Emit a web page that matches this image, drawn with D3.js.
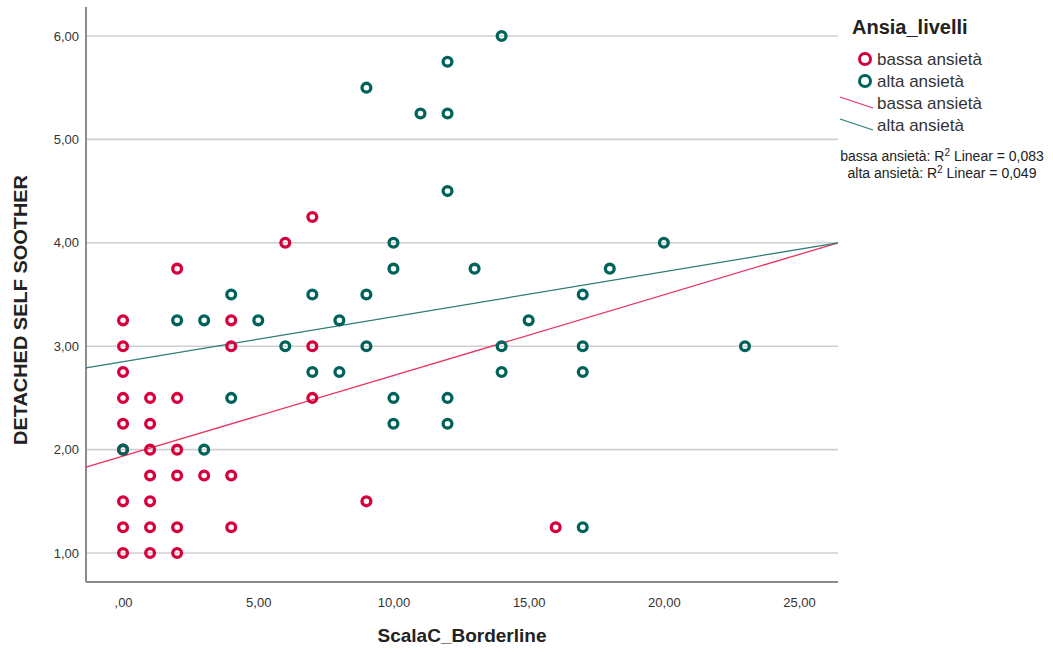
<!DOCTYPE html>
<html>
<head>
<meta charset="utf-8">
<script src="https://cdn.jsdelivr.net/npm/d3@7"></script>
<style>
  body { margin: 0; background: #fff; }
  svg { display: block; }
  text { font-family: "Liberation Sans Narrow", "Arial Narrow", "Liberation Sans", Arial, sans-serif; }
</style>
</head>
<body>
<svg id="chart" width="1053" height="653"></svg>
<script>
// group names
const groups = ['bassa ansietà', 'alta ansietà'];
const colors = ['#d6003c', '#00635b'];
const lineColors = ['#e8345f', '#2a7d76'];

// bassa ansietà points [ScalaC_Borderline, DETACHED SELF SOOTHER]
const bassa = [
  [0, 3.25], [0, 3.0], [0, 2.75], [0, 2.5], [0, 2.25], [0, 2.0], [0, 1.5], [0, 1.25], [0, 1.0],
  [1, 2.5], [1, 2.25], [1, 2.0], [1, 1.75], [1, 1.5], [1, 1.25], [1, 1.0],
  [2, 3.75], [2, 2.5], [2, 2.0], [2, 1.75], [2, 1.25], [2, 1.0],
  [3, 1.75],
  [4, 3.25], [4, 3.0], [4, 1.75], [4, 1.25],
  [6, 4.0], [7, 4.25], [7, 3.0], [7, 2.5],
  [9, 1.5], [16, 1.25]
];

// alta ansietà points
const alta = [
  [0, 2.0], [2, 3.25], [3, 3.25], [3, 2.0],
  [4, 3.5], [4, 2.5], [5, 3.25], [6, 3.0],
  [7, 3.5], [7, 2.75], [8, 3.25], [8, 2.75],
  [9, 5.5], [9, 3.5], [9, 3.0],
  [10, 4.0], [10, 3.75], [10, 2.5], [10, 2.25],
  [11, 5.25], [12, 5.75], [12, 5.25], [12, 4.5], [12, 2.5], [12, 2.25],
  [13, 3.75], [14, 6.0], [14, 3.0], [14, 2.75], [15, 3.25],
  [17, 3.5], [17, 3.0], [17, 2.75], [17, 1.25],
  [18, 3.75], [20, 4.0], [23, 3.0]
];

// linear fits [intercept, slope] and R2
const fits = [[1.937, 0.078], [2.85, 0.0435]];
const r2 = ['0,083', '0,049'];

const xTicks = [0, 5, 10, 15, 20, 25];
const yTicks = [1, 2, 3, 4, 5, 6];

const fmt = v => d3.format('.2f')(v).replace('.', ',').replace(/^0,/, ',');

const svg = d3.select('#chart');
const plot = { left: 86, right: 838, top: 7, bottom: 582 };

const x = d3.scaleLinear().domain([-1.37, 26.44]).range([plot.left, plot.right]);
const y = d3.scaleLinear().domain([0.72, 6.28]).range([plot.bottom, plot.top]);

// grid
svg.append('g').selectAll('line').data(yTicks).join('line')
  .attr('x1', plot.left).attr('x2', plot.right)
  .attr('y1', d => y(d)).attr('y2', d => y(d))
  .attr('stroke', '#cfcfcf').attr('stroke-width', 1.6);

// axes
const yAxis = svg.append('g').attr('transform', `translate(${plot.left},0)`)
  .call(d3.axisLeft(y).tickValues(yTicks).tickFormat(fmt).tickSize(0).tickPadding(7));
const xAxis = svg.append('g').attr('transform', `translate(0,${plot.bottom})`)
  .call(d3.axisBottom(x).tickValues(xTicks).tickFormat(fmt).tickSize(0).tickPadding(16));
[yAxis, xAxis].forEach(a => {
  a.select('.domain').attr('stroke', '#8c8c8c').attr('stroke-width', 2);
  a.selectAll('text').attr('font-size', 13).attr('fill', '#333');
});
xAxis.select('.domain').attr('d', `M${plot.left},0H${plot.right}`);
yAxis.select('.domain').attr('d', `M0,${plot.top}V${plot.bottom}`);

// fit lines
const xd = x.domain();
fits.forEach((f, i) => {
  svg.append('line')
    .attr('x1', x(xd[0])).attr('y1', y(f[0] + f[1] * xd[0]))
    .attr('x2', x(xd[1])).attr('y2', y(f[0] + f[1] * xd[1]))
    .attr('stroke', lineColors[i]).attr('stroke-width', 1.3);
});

// points
[bassa, alta].forEach((pts, i) => {
  svg.append('g').selectAll('circle').data(pts).join('circle')
    .attr('cx', d => x(d[0])).attr('cy', d => y(d[1]))
    .attr('r', 4.4)
    .attr('fill', 'none')
    .attr('stroke', colors[i]).attr('stroke-width', 3.3);
});

// axis titles
svg.append('text').attr('x', 462).attr('y', 642).attr('text-anchor', 'middle')
  .attr('font-size', 19).attr('font-weight', 'bold').attr('fill', '#222')
  .text('ScalaC_Borderline');
svg.append('text').attr('transform', 'translate(27,310) rotate(-90)').attr('text-anchor', 'middle')
  .attr('font-size', 19).attr('font-weight', 'bold').attr('fill', '#222')
  .attr('textLength', 270).attr('lengthAdjust', 'spacingAndGlyphs')
  .text('DETACHED SELF SOOTHER');

// legend
const lg = svg.append('g');
lg.append('text').attr('x', 852).attr('y', 34).attr('font-size', 20).attr('font-weight', 'bold')
  .attr('fill', '#222').text('Ansia_livelli');
groups.forEach((g, i) => {
  lg.append('circle').attr('cx', 865).attr('cy', 59 + i * 22).attr('r', 5.5)
    .attr('fill', 'none').attr('stroke', colors[i]).attr('stroke-width', 3);
  lg.append('text').attr('x', 877).attr('y', 65 + i * 22).attr('font-size', 17)
    .attr('fill', '#333').text(g);
  lg.append('line').attr('x1', 840).attr('y1', 97 + i * 22).attr('x2', 873).attr('y2', 108 + i * 22)
    .attr('stroke', lineColors[i]).attr('stroke-width', 1.3);
  lg.append('text').attr('x', 877).attr('y', 109 + i * 22).attr('font-size', 17)
    .attr('fill', '#333').text(g);
});
groups.forEach((g, i) => {
  const t = lg.append('text').attr('x', 942).attr('y', 161 + i * 17).attr('text-anchor', 'middle')
    .attr('font-size', 14).attr('fill', '#222');
  t.append('tspan').text(g + ': R');
  t.append('tspan').attr('font-size', 10).attr('dy', -5).text('2');
  t.append('tspan').attr('dy', 5).text(' Linear = ' + r2[i]);
});
</script>
</body>
</html>
